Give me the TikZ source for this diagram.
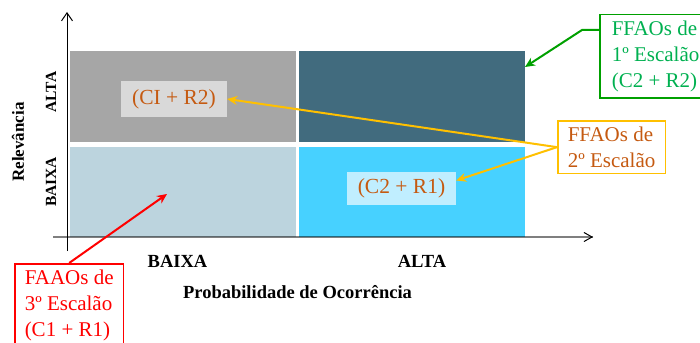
\documentclass[tikz,border=0pt]{standalone}
\usepackage{fontspec}
\setmainfont{Liberation Serif}
\usetikzlibrary{positioning}
\usetikzlibrary{arrows.meta}

\definecolor{cellgrey}{HTML}{A6A6A6}
\definecolor{cellteal}{HTML}{416B7E}
\definecolor{cellpale}{HTML}{BCD4DE}
\definecolor{cellcyan}{HTML}{47D1FF}
\definecolor{taggrey}{HTML}{D9D9D9}
\definecolor{tagcyan}{HTML}{C0EEFF}
\definecolor{tagorange}{HTML}{C55A11}
\definecolor{notegold}{HTML}{FFC000}
\definecolor{notegreen}{HTML}{00A000}
\definecolor{textgreen}{HTML}{00B050}
\definecolor{notered}{HTML}{FF0000}

\begin{document}
\begin{tikzpicture}[x=1pt, y=-1pt,
cellnode/.style={rectangle, inner sep=0pt, minimum width=226pt, minimum height=91pt, anchor=north west},
tagnode/.style={rectangle, inner sep=0pt, text=tagorange, font=\fontsize{21.5}{24}\selectfont},
notenode/.style={rectangle, line width=1.5pt, align=left, anchor=north west, inner xsep=10pt, inner ysep=6pt, font=\fontsize{21}{26}\selectfont},
axislabel/.style={font=\bfseries\fontsize{18.5}{20}\selectfont},
sidelabel/.style={rotate=90, font=\bfseries\fontsize{15.5}{18}\selectfont},
pointer/.style={line width=2pt, -{Stealth[length=10pt, width=9pt]}},
]
\useasboundingbox (0,0) rectangle (700,342);

%Nodes
\node[cellnode, fill=cellgrey]                          (c1r2) at (70,51)  {};
\node[cellnode, fill=cellteal]                          (c2r2) at (299,51) {};
\node[cellnode, fill=cellpale, minimum height=90pt]     (c1r1) at (70,147) {};
\node[cellnode, fill=cellcyan, minimum height=90pt]     (c2r1) at (299,147) {};

\node[tagnode, fill=taggrey, minimum width=106pt, minimum height=36pt] (tagA) at (174,99)    {(CI + R2)};
\node[tagnode, fill=tagcyan, minimum width=109pt, minimum height=33pt] (tagB) at (401.5,188.5) {(C2 + R1)};

\node[notenode, draw=notegreen, text=textgreen, inner xsep=12pt] (note1) at (599,14)  {FFAOs de\\1º Escalão\\(C2 + R2)};
\node[notenode, draw=notegold, text=tagorange]                   (note2) at (557,120) {FFAOs de\\2º Escalão};
\node[notenode, draw=notered, text=notered]                      (note3) at (14,263)  {FAAOs de\\3º Escalão\\(C1 + R1)};

\node[axislabel]                         (xlow)   at (177.5,261) {BAIXA};
\node[axislabel]                         (xhigh)  at (422,261)   {ALTA};
\node[axislabel]                         (xtitle) at (297.5,292) {Probabilidade de Ocorrência};
\node[sidelabel]                         (yhigh)  at (51,92)     {ALTA};
\node[sidelabel]                         (ylow)   at (51,182)    {BAIXA};
\node[sidelabel, font=\bfseries\fontsize{17}{18}\selectfont] (ytitle) at (18,142) {Relevância};

\coordinate (xo)   at (53,237);
\coordinate (xend) at (593,237);
\coordinate (yo)   at (67,251);
\coordinate (ytop) at (67,12);
\coordinate (g1)   at (582,30);
\coordinate (g0)   at (525,67);
\coordinate (r0)   at (167,194);

%Lines
\draw[line width=2pt, draw opacity=0.5] (xo) -- (xend);
\draw[-{Straight Barb[length=8pt, width=9pt]}, line width=1pt] ([xshift=-1pt]xend) -- (xend);
\draw[-{Straight Barb[length=8pt, width=11pt]}, line width=1pt] (yo) -- (ytop);

\draw[pointer, notegreen] ([yshift=-16pt]note1.north west) -- (g1) -- (g0);
\draw[pointer, notegold]  (note2.west) -- (tagA.east);
\draw[pointer, notegold]  (note2.west) -- ([yshift=8pt]tagB.east);
\draw[pointer, notered]   (note3.north) -- (r0);
\end{tikzpicture}
\end{document}
